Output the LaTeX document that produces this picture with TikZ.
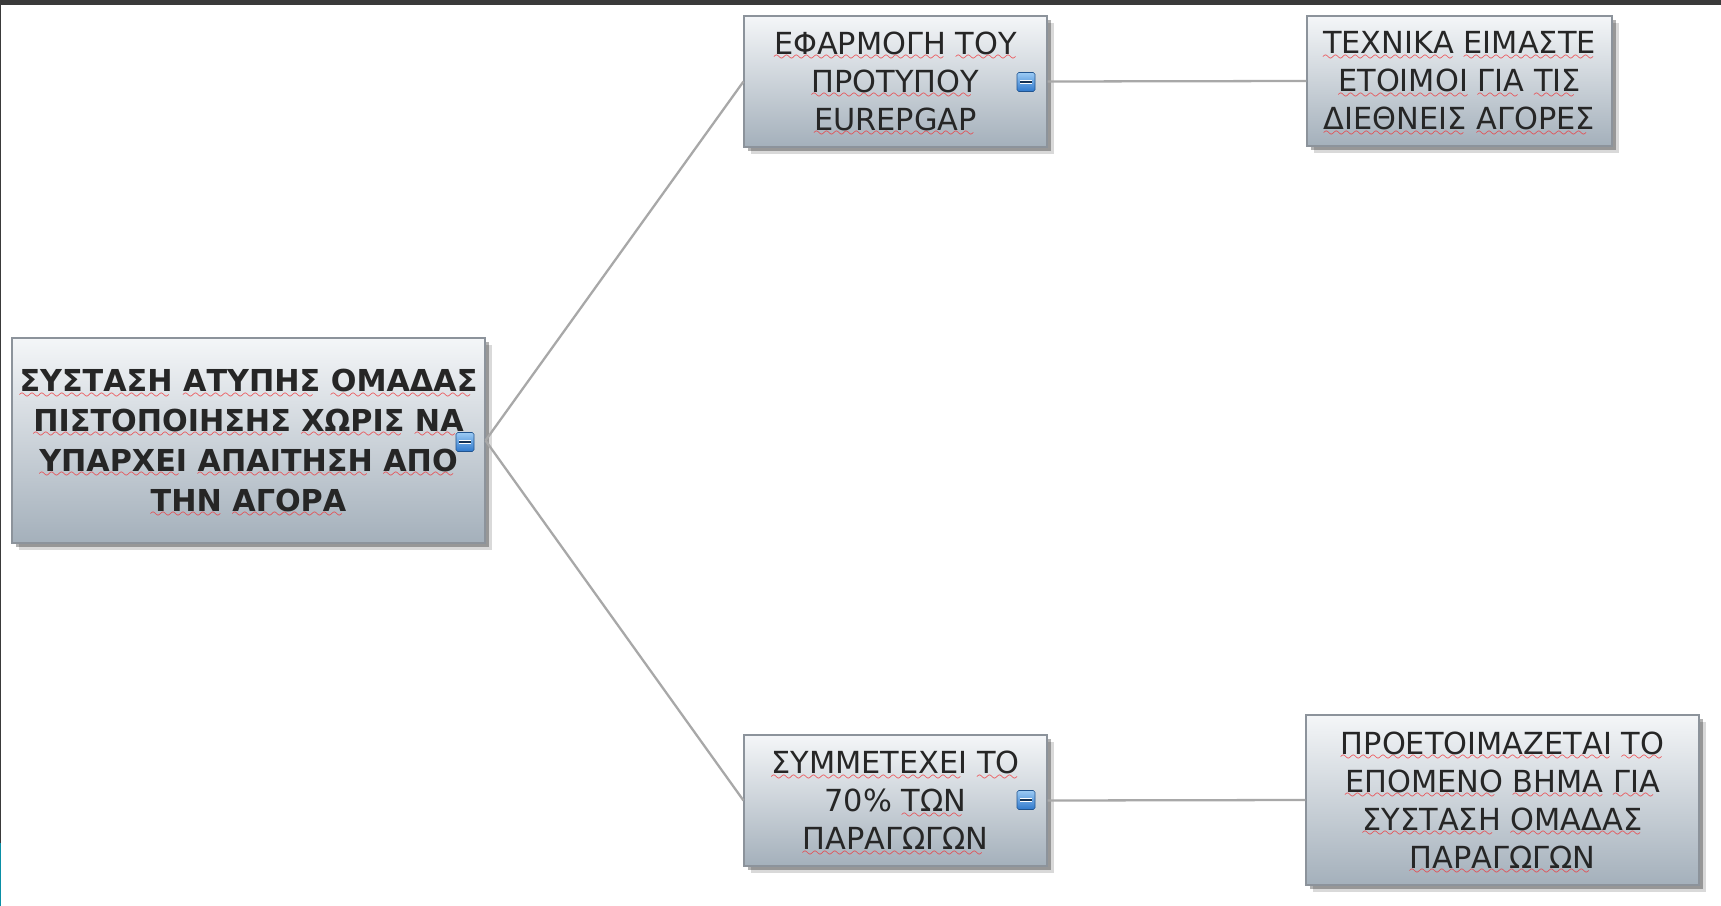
\documentclass[tikz,border=0pt]{standalone}
\usepackage{fontspec}
\setmainfont{DejaVu Sans}
\usetikzlibrary{shadows}
\definecolor{boxtop}{HTML}{F4F6F8}
\definecolor{boxbot}{HTML}{A4B0BB}
\definecolor{boxline}{HTML}{8C939B}
\definecolor{linkgray}{HTML}{A8A8A8}
\definecolor{spellred}{HTML}{F0383C}
\definecolor{btntop}{HTML}{9CCBF4}
\definecolor{btnbot}{HTML}{2F78CC}
\definecolor{framegray}{HTML}{3A3A3A}
\definecolor{framecyan}{HTML}{0A8FA6}
\font\wavefont=lasy8
\newsavebox\wordbox
% a word with a red wavy underline
\newcommand\wv[1]{\sbox\wordbox{#1}\rlap{\smash{\textcolor{spellred}{\lower3.6pt\hbox to\wd\wordbox{\leaders\hbox{\wavefont\char58}\hfil}}}}\usebox\wordbox}

\begin{document}
\begin{tikzpicture}[x=0.02cm,y=-0.02cm,
  box/.style={draw=boxline, line width=0.6pt, top color=boxtop, bottom color=boxbot,
    align=center, inner sep=0pt, text=black!85,
    drop shadow={shadow xshift=4pt, shadow yshift=-4pt, fill=black, opacity=.15},
    drop shadow={shadow xshift=2.5pt, shadow yshift=-2.5pt, fill=black, opacity=.3}},
  boxsize/.style 2 args={minimum width=#1*0.02cm, minimum height=#2*0.02cm},
  btn/.style={inner sep=0pt, minimum width=18*0.02cm, minimum height=19*0.02cm,
    rounded corners=1pt, draw=btnbot!70!black, line width=0.3pt, top color=btntop, bottom color=btnbot,
    path picture={
      \draw[white, line width=2.6pt] ([xshift=-3.6pt]path picture bounding box.center) -- ([xshift=3.6pt]path picture bounding box.center);
      \draw[btnbot!40!black, line width=1pt] ([xshift=-3.3pt]path picture bounding box.center) -- ([xshift=3.3pt]path picture bounding box.center);}},
  link/.style={draw=linkgray, line width=1.3pt}]
\useasboundingbox (0,0) rectangle (1721,906);
\fill[white] (0,0) rectangle (1721,906);
% frame of the screenshot
\fill[framegray] (0,0) rectangle (1721,5);
\fill[framegray] (0,0) rectangle (1.5,843);
\fill[framecyan] (0,843) rectangle (1.5,906);

\node[box, boxsize={473}{205}, font={\fontsize{17.2}{22.6}\selectfont\bfseries}] (root) at (248.5,440.5)
  {\wv{ΣΥΣΤΑΣΗ} \wv{ΑΤΥΠΗΣ} \wv{ΟΜΑΔΑΣ}\\ \wv{ΠΙΣΤΟΠΟΙΗΣΗΣ} \wv{ΧΩΡΙΣ} \wv{ΝΑ}\\
   \wv{ΥΠΑΡΧΕΙ} \wv{ΑΠΑΙΤΗΣΗ} \wv{ΑΠΟ}\\ \wv{ΤΗΝ} \wv{ΑΓΟΡΑ}};
\node[box, boxsize={303}{131}, font={\fontsize{17.3}{21.6}\selectfont}] (eurepgap) at (895.5,81.5)
  {\wv{ΕΦΑΡΜΟΓΗ} \wv{ΤΟΥ}\\ \wv{ΠΡΟΤΥΠΟΥ}\\ \wv{EUREPGAP}};
\node[box, boxsize={305}{130}, font={\fontsize{17.3}{21.6}\selectfont}] (ready) at (1459.5,81)
  {\wv{ΤΕΧΝΙΚΑ} \wv{ΕΙΜΑΣΤΕ}\\ \wv{ΕΤΟΙΜΟΙ} \wv{ΓΙΑ} \wv{ΤΙΣ}\\ \wv{ΔΙΕΘΝΕΙΣ} \wv{ΑΓΟΡΕΣ}};
\node[box, boxsize={303}{131}, font={\fontsize{17.3}{21.6}\selectfont}] (share) at (895.5,800.5)
  {\wv{ΣΥΜΜΕΤΕΧΕΙ} \wv{ΤΟ}\\ 70\% \wv{ΤΩΝ}\\ \wv{ΠΑΡΑΓΩΓΩΝ}};
\node[box, boxsize={393}{170}, font={\fontsize{17.3}{21.6}\selectfont}] (nextstep) at (1502.5,800)
  {\wv{ΠΡΟΕΤΟΙΜΑΖΕΤΑΙ} \wv{ΤΟ}\\ \wv{ΕΠΟΜΕΝΟ} \wv{ΒΗΜΑ} \wv{ΓΙΑ}\\ \wv{ΣΥΣΤΑΣΗ} \wv{ΟΜΑΔΑΣ}\\ \wv{ΠΑΡΑΓΩΓΩΝ}};

% collapse buttons
\node[btn] (rootbtn) at (465,442) {};
\node[btn] (eurbtn) at (1026,82) {};
\node[btn] (sharebtn) at (1026,800) {};

\draw[link] (root.east) -- (eurepgap.west);
\draw[link] (root.east) -- (share.west);
\draw[link] (eurepgap.east) -- (ready.west);
\draw[link] (share.east) -- (nextstep.west);
\end{tikzpicture}
\end{document}
